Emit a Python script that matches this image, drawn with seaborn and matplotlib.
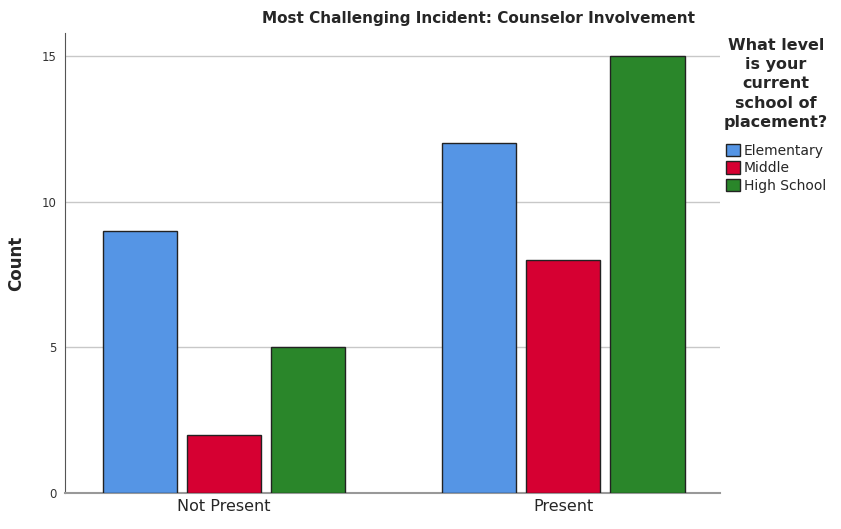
import matplotlib
matplotlib.use("Agg")
import matplotlib.pyplot as plt
import seaborn as sns
import pandas as pd
from matplotlib.patches import Patch

categories = ["Not Present", "Present"]
levels = ["Elementary", "Middle", "High School"]
elementary = [9, 12]
middle = [2, 8]
high_school = [5, 15]
colors = ["#5595E5", "#D60032", "#2A862A"]

rows = []
for i, c in enumerate(categories):
    for lvl, vals in zip(levels, [elementary, middle, high_school]):
        rows.append({"Involvement": c, "Level": lvl, "Count": vals[i]})
df = pd.DataFrame(rows)

sns.set_style("white")
plt.rcParams['font.family'] = ['DejaVu Sans']

fig = plt.figure(figsize=(8.41, 5.29), dpi=100)
ax = fig.add_axes([65/841, 36/529, 655/841, 460/529])

sns.barplot(data=df, x="Involvement", y="Count", hue="Level", order=categories,
            hue_order=levels, palette=colors, saturation=1, width=0.744, gap=0.11,
            edgecolor="#222222", linewidth=1.0, ax=ax, legend=False, zorder=3)

ax.set_ylim(0, 15.79)
ax.set_xlim(-0.469, 1.463)
ax.set_yticks([0, 5, 10, 15])
ax.set_yticklabels(["0", "5", "10", "15"], fontsize=8.5, color="#333333")
ax.tick_params(axis="both", length=0, pad=6)
ax.tick_params(axis="x", labelsize=11.5, pad=4)
ax.yaxis.grid(True, color="#C8C8C8", linewidth=1.0, zorder=0)
ax.set_axisbelow(True)
ax.set_xlabel("")
ax.set_ylabel("Count", fontsize=12, fontweight="bold", labelpad=12)
for s in ["top", "right"]:
    ax.spines[s].set_visible(False)
ax.spines["left"].set_color("#555555")
ax.spines["bottom"].set_color("#999999")
ax.spines["bottom"].set_linewidth(1.5)

fig.text(478/841, 1 - 18/529, "Most Challenging Incident: Counselor Involvement",
         ha="center", va="center", fontsize=11, fontweight="bold")

handles = [Patch(facecolor=c, edgecolor="#222222", label=l) for c, l in zip(colors, levels)]
leg = fig.legend(handles=handles, title="What level\nis your\ncurrent\nschool of\nplacement?",
                 loc="upper left", bbox_to_anchor=(724/841, 1 - 38/529), frameon=False,
                 fontsize=10, title_fontproperties={"weight": "bold", "size": 11.5},
                 handlelength=1.0, handleheight=1.0, handletextpad=0.3,
                 labelspacing=0.25, borderaxespad=0, borderpad=0)
leg.get_title().set_multialignment("center")
leg.get_title().set_linespacing(1.35)
leg._legend_box.sep = 10

fig.savefig("out.png", dpi=100)
